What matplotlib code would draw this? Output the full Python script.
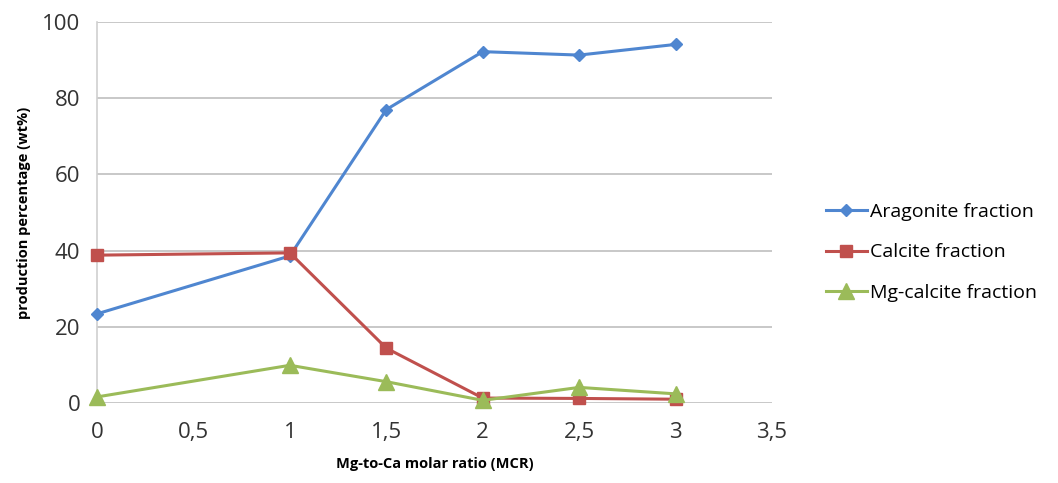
import matplotlib
matplotlib.use("Agg")
import matplotlib.pyplot as plt
from matplotlib.ticker import FuncFormatter

plt.rcParams["font.family"] = ["Open Sans", "DejaVu Sans"]

# Mg-to-Ca molar ratio
mcr = [0, 1, 1.5, 2, 2.5, 3]
aragonite = [23.4, 38.6, 77.0, 92.2, 91.3, 94.1]
calcite = [38.8, 39.4, 14.4, 1.3, 1.2, 1.0]
mg_calcite = [1.6, 9.9, 5.6, 0.7, 4.1, 2.4]

x_ticks = [0, 0.5, 1, 1.5, 2, 2.5, 3, 3.5]
y_ticks = [0, 20, 40, 60, 80, 100]

SERIES = [
    (aragonite, "Aragonite fraction", "#4F86D0", "D", 6.5),
    (calcite, "Calcite fraction", "#C0504D", "s", 8),
    (mg_calcite, "Mg-calcite fraction", "#9BBB59", "^", 11),
]

fig = plt.figure(figsize=(10.58, 4.83), dpi=100)
ax = fig.add_axes([0.0917, 0.1656, 0.638, 0.789])

for values, label, color, marker, ms in SERIES:
    ax.plot(mcr, values, color=color, linewidth=2.2, marker=marker,
            markersize=ms, label=label, clip_on=False, zorder=3)

ax.set_xlim(0, 3.5)
ax.set_ylim(0, 100)
ax.set_xticks(x_ticks)
ax.set_yticks(y_ticks)
ax.xaxis.set_major_formatter(FuncFormatter(lambda v, p: f"{v:g}".replace(".", ",")))
ax.tick_params(axis="both", length=0, labelsize=16, colors="#333333", pad=14)
ax.tick_params(axis="y", pad=12)

ax.grid(axis="y", color="#BFBFBF", linewidth=1.2)
ax.set_axisbelow(True)
for side in ["top", "right", "bottom"]:
    ax.spines[side].set_visible(False)
ax.spines["left"].set_color("#D0D0D0")
ax.spines["left"].set_linewidth(1.2)

ax.set_xlabel("Mg-to-Ca molar ratio (MCR)", fontsize=10.5, fontweight="bold", labelpad=10)
ax.set_ylabel("production percentage (wt%)", fontsize=10.5, fontweight="bold", labelpad=8)

ax.legend(loc="center left", bbox_to_anchor=(1.054, 0.395), frameon=False,
          fontsize=14, handlelength=2.1, handletextpad=0.15, labelspacing=1.15)

fig.savefig("out.png", dpi=100)
